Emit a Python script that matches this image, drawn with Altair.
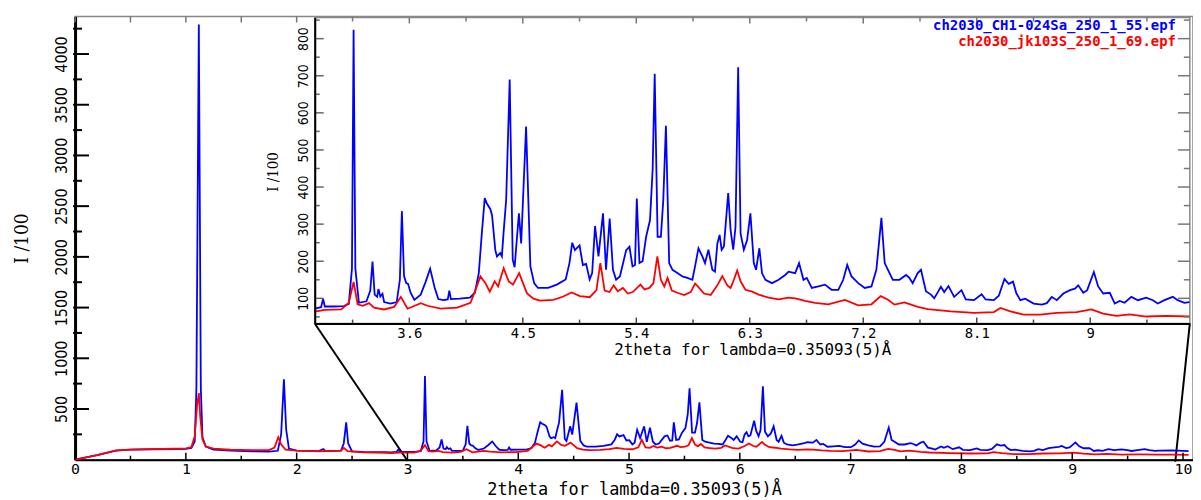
import altair as alt
import pandas as pd

# ---------------- data ----------------
series_names = ["ch2030_CH1-024Sa_250_1_55.epf", "ch2030_jk103S_250_1_69.epf"]

blue_x = [0.00, 0.20, 0.37, 0.50, 0.70, 0.90, 1.00, 1.05, 1.08, 1.095, 1.117, 1.135, 1.15, 1.18, 1.25,
          1.40, 1.60, 1.75, 1.83, 1.86, 1.885, 1.905, 1.93, 2.00, 2.20, 2.24, 2.26, 2.40, 2.425, 2.447,
          2.465, 2.50, 2.60, 2.80, 2.85, 2.90, 2.916, 2.93, 3.00, 3.08, 3.12, 3.145, 3.158, 3.172, 3.20,
          3.26, 3.29, 3.308, 3.325, 3.345, 3.355, 3.37, 3.387, 3.40, 3.45, 3.50, 3.525, 3.541, 3.558,
          3.575, 3.59, 3.61, 3.64, 3.69, 3.73, 3.765, 3.80, 3.83, 3.87, 3.905, 3.917, 3.93, 4.00, 4.08,
          4.12, 4.151, 4.175, 4.198, 4.216, 4.242, 4.256, 4.282, 4.295, 4.321, 4.334, 4.347, 4.368,
          4.396, 4.42, 4.435, 4.469, 4.487, 4.526, 4.56, 4.59, 4.62, 4.70, 4.77, 4.84, 4.87, 4.892,
          4.913, 4.95, 4.976, 5.002, 5.03, 5.05, 5.073, 5.10, 5.136, 5.16, 5.189, 5.215, 5.24, 5.27,
          5.32, 5.346, 5.37, 5.39, 5.404, 5.425, 5.45, 5.478, 5.509, 5.53, 5.546, 5.569, 5.595, 5.614,
          5.635, 5.661, 5.687, 5.726, 5.766, 5.805, 5.845, 5.871, 5.893, 5.924, 5.945, 5.972, 6.003,
          6.024, 6.043, 6.061, 6.077, 6.095, 6.129, 6.148, 6.169, 6.187, 6.208, 6.227, 6.253, 6.279,
          6.305, 6.332, 6.35, 6.376, 6.397, 6.424, 6.476, 6.529, 6.581, 6.608, 6.660, 6.691, 6.726,
          6.752, 6.792, 6.844, 6.897, 6.949, 7.002, 7.041, 7.073, 7.107, 7.160, 7.212, 7.265, 7.304,
          7.325, 7.344, 7.370, 7.396, 7.435, 7.487, 7.540, 7.566, 7.592, 7.632, 7.658, 7.697, 7.737,
          7.763, 7.816, 7.842, 7.876, 7.921, 7.979, 8.013, 8.078, 8.139, 8.170, 8.236, 8.275, 8.320,
          8.354, 8.388, 8.414, 8.446, 8.485, 8.551, 8.617, 8.656, 8.695, 8.735, 8.787, 8.840, 8.879,
          8.905, 8.945, 8.976, 9.029, 9.063, 9.103, 9.155, 9.195, 9.234, 9.273, 9.326, 9.379, 9.444,
          9.497, 9.536, 9.589, 9.655, 9.694, 9.747, 9.787, 9.90, 10.05]
blue_y = [0, 45, 90, 100, 103, 105, 108, 115, 180, 700, 4290, 700, 220, 130, 100,
          90, 82, 80, 88, 250, 794, 300, 110, 90, 85, 105, 85, 90, 160, 369,
          160, 82, 78, 75, 72, 76, 98, 78, 78, 79, 85, 180, 824, 180, 88,
          92, 120, 199, 110, 104, 125, 105, 112, 90, 86, 90, 150, 335, 160,
          141, 139, 115, 96, 110, 145, 180, 130, 98, 95, 97, 121, 98, 99, 102,
          115, 168, 275, 370, 355, 341, 324, 230, 213, 222, 213, 275, 365,
          690, 204, 184, 329, 248, 563, 186, 141, 128, 128, 137, 151, 195, 250,
          230, 243, 190, 193, 151, 168, 295, 213, 329, 177, 315, 177, 150, 159,
          230, 239, 186, 190, 369, 195, 200, 266, 311, 450, 705, 266, 266, 364,
          565, 195, 177, 168, 159, 155, 150, 195, 235, 213, 195, 231, 177,
          172, 248, 271, 231, 240, 384, 284, 231, 293, 723, 275, 231, 257,
          329, 195, 177, 235, 168, 150, 141, 150, 163, 172, 168, 195, 150,
          155, 128, 132, 137, 123, 123, 150, 190, 159, 141, 128, 132, 177,
          250, 317, 195, 177, 150, 150, 163, 155, 141, 168, 177, 119, 110,
          100, 131, 117, 133, 104, 122, 97, 95, 111, 97, 95, 107, 152,
          139, 145, 114, 95, 99, 86, 83, 87, 104, 95, 113, 122, 126,
          135, 115, 122, 171, 132, 113, 115, 86, 93, 88, 104, 95, 102,
          95, 86, 95, 104, 95, 88, 90, 92, 85]

red_x = [0.00, 0.20, 0.37, 0.50, 0.70, 0.90, 1.00, 1.05, 1.08, 1.10, 1.117, 1.13, 1.15, 1.18, 1.25,
         1.40, 1.60, 1.75, 1.80, 1.834, 1.86, 1.90, 2.00, 2.20, 2.40, 2.426, 2.46, 2.60, 2.80, 2.85,
         2.93, 3.06, 3.12, 3.158, 3.19, 3.23, 3.28, 3.32, 3.40, 3.48, 3.533, 3.586, 3.691, 3.744,
         3.849, 3.98, 4.085, 4.125, 4.164, 4.204, 4.238, 4.277, 4.304, 4.348, 4.388, 4.422, 4.471,
         4.532, 4.584, 4.637, 4.742, 4.821, 4.887, 4.953, 5.031, 5.084, 5.115, 5.149, 5.188, 5.220,
         5.254, 5.294, 5.333, 5.372, 5.433, 5.465, 5.504, 5.536, 5.567, 5.595, 5.622, 5.648, 5.682,
         5.726, 5.779, 5.832, 5.866, 5.898, 5.937, 5.990, 6.043, 6.082, 6.122, 6.148, 6.174, 6.200,
         6.227, 6.266, 6.319, 6.371, 6.450, 6.529, 6.608, 6.660, 6.739, 6.818, 6.923, 7.054, 7.160,
         7.265, 7.339, 7.396, 7.448, 7.527, 7.632, 7.711, 7.895, 8.078, 8.236, 8.288, 8.367, 8.472,
         8.604, 8.735, 8.892, 9.010, 9.103, 9.208, 9.313, 9.444, 9.602, 9.787, 9.90, 10.05]
red_y = [0, 45, 92, 100, 105, 108, 110, 125, 230, 520, 657, 420, 200, 130, 110,
         98, 95, 95, 120, 222, 150, 100, 90, 82, 90, 115, 85, 72, 68, 64,
         69, 70, 88, 144, 84, 80, 87, 75, 70, 77, 104, 72, 87, 80,
         72, 75, 88, 123, 159, 141, 118, 146, 132, 181, 146, 137, 168,
         114, 99, 94, 96, 105, 116, 106, 103, 122, 195, 121, 117, 135,
         119, 128, 113, 117, 137, 124, 128, 141, 213, 150, 132, 155, 121,
         115, 109, 117, 140, 128, 113, 109, 135, 160, 135, 128, 150, 175,
         146, 123, 118, 110, 102, 97, 102, 100, 93, 88, 84, 96, 81,
         84, 106, 96, 83, 89, 77, 71, 65, 61, 63, 74, 65, 56,
         56, 61, 63, 70, 59, 53, 57, 51, 53, 51, 50, 48]

main_x_ticks = [0, 1, 2, 3, 4, 5, 6, 7, 8, 9, 10]
main_x_minor = [0.5, 1.5, 2.5, 3.5, 4.5, 5.5, 6.5, 7.5, 8.5, 9.5]
main_y_ticks = [500, 1000, 1500, 2000, 2500, 3000, 3500, 4000]
main_y_minor = [250, 750, 1250, 1750, 2250, 2750, 3250, 3750, 4250]
inset_x_ticks = [3.6, 4.5, 5.4, 6.3, 7.2, 8.1, 9.0]
inset_x_minor = [3.15, 4.05, 4.95, 5.85, 6.75, 7.65, 8.55, 9.45]
inset_y_ticks = [100, 200, 300, 400, 500, 600, 700, 800]
inset_y_minor = [50, 150, 250, 350, 450, 550, 650, 750, 850]

# zoom connector targets on the main axis (x in 2theta, y in I/100)
connector_target_x = [3.0, 9.93]
connector_target_y = [-10, -20]

x_title = "2theta for lambda=0.35093(5)Å"
y_title = "I /100"

# ---------------- layout / style ----------------
W, H = 1125, 446
MAIN_X_DOMAIN = [0, 10.09]
MAIN_Y_DOMAIN = [0, 4370]
INSET_X_DOMAIN = [2.85, 9.79]
INSET_Y_DOMAIN = [32, 857]
INSET_X_RANGE = [241.2, 1121.8]
INSET_Y_RANGE = [309, 1]

BLUE, RED = "#0000ff", "#ff0000"
MONO = "DejaVu Sans Mono"
NARROW = "Liberation Sans Narrow, DejaVu Sans Condensed, sans-serif"
SERIFC = "DejaVu Serif Condensed, Liberation Serif, serif"

blue_df = pd.DataFrame({"x": blue_x, "y": blue_y})
red_df = pd.DataFrame({"x": red_x, "y": red_y})
in_rng = lambda d: d[(d.x >= INSET_X_DOMAIN[0]) & (d.x <= INSET_X_DOMAIN[1])]
blue_in, red_in = in_rng(blue_df), in_rng(red_df)
one = pd.DataFrame({"k": [0]})


def mxs():
    return alt.Scale(domain=MAIN_X_DOMAIN, nice=False, zero=False)


def mys():
    return alt.Scale(domain=MAIN_Y_DOMAIN, nice=False, zero=False)


def ixs():
    return alt.Scale(domain=INSET_X_DOMAIN, range=INSET_X_RANGE, nice=False, zero=False)


def iys():
    return alt.Scale(domain=INSET_Y_DOMAIN, range=INSET_Y_RANGE, nice=False, zero=False)


main_x_axis = alt.Axis(orient="bottom", values=main_x_ticks, ticks=False, grid=False,
                       domainColor="black", domainWidth=2,
                       labelFont=MONO, labelFontSize=15, labelColor="black", labelPadding=2,
                       labelFlush=False, labelOverlap=False,
                       labelExpr="format(datum.value, '.1~f')",
                       title=x_title, titleFont=MONO, titleFontSize=17, titleFontWeight="normal",
                       titleColor="black", titleY=30, titleBaseline="middle")
main_y_axis = alt.Axis(orient="left", values=main_y_ticks, ticks=False, grid=False,
                       domainColor="black", domainWidth=3,
                       labelFont=NARROW, labelFontSize=16, labelColor="black", labelAngle=270,
                       labelAlign="center", labelBaseline="bottom", labelPadding=6,
                       labelFlush=False, labelOverlap=False,
                       labelExpr="format(datum.value, 'd')",
                       title=y_title, titleFont=SERIFC, titleFontSize=19, titleFontWeight="normal",
                       titleColor="black", titleAngle=270, titleX=-53.5, titleY=223,
                       titleAlign="center", titleBaseline="middle")

inset_x_axis = alt.Axis(orient="bottom", offset=-(H - INSET_Y_RANGE[0]), values=inset_x_ticks,
                        labelExpr="format(datum.value, '.1~f')",
                        ticks=False, grid=False, domainColor="black", domainWidth=2,
                        labelFont=MONO, labelFontSize=14, labelColor="black", labelPadding=3,
                        labelFlush=False, labelOverlap=False,
                        title=x_title, titleFont=MONO, titleFontSize=16, titleFontWeight="normal",
                        titleColor="black", titleY=26, titleBaseline="middle", zindex=1)
inset_y_axis = alt.Axis(orient="left", offset=-INSET_X_RANGE[0], values=inset_y_ticks,
                        labelExpr="format(datum.value, 'd')",
                        ticks=False, grid=False, domainColor="black", domainWidth=2,
                        labelFont=NARROW, labelFontSize=14, labelColor="black", labelAngle=270,
                        labelAlign="center", labelBaseline="bottom", labelPadding=4,
                        labelFlush=False, labelOverlap=False,
                        title=y_title, titleFont=SERIFC, titleFontSize=15, titleFontWeight="normal",
                        titleColor="black", titleAngle=270, titleX=-42, titleY=156,
                        titleAlign="center", titleBaseline="middle", zindex=1)

# ---------------- main plot ----------------
blue_main = alt.Chart(blue_df).mark_line(color=BLUE, strokeWidth=1.8).encode(
    x=alt.X("x:Q", scale=mxs(), axis=main_x_axis), y=alt.Y("y:Q", scale=mys(), axis=main_y_axis))
red_main = alt.Chart(red_df).mark_line(color=RED, strokeWidth=1.8).encode(
    x=alt.X("x:Q", scale=mxs(), axis=None), y=alt.Y("y:Q", scale=mys(), axis=None))


def vticks(values, xs, ys, ydatum, off, color, sw=1.5):
    return alt.Chart(pd.DataFrame({"v": values})).mark_rule(color=color, strokeWidth=sw, y2Offset=off).encode(
        x=alt.X("v:Q", scale=xs(), axis=None),
        y=alt.YDatum(ydatum, type="quantitative", scale=ys(), axis=None),
        y2=alt.Y2Datum(ydatum))


def hticks(values, xs, ys, xdatum, off, color, sw=1.5, xoff=0):
    return alt.Chart(pd.DataFrame({"v": values})).mark_rule(color=color, strokeWidth=sw, xOffset=xoff, x2Offset=off).encode(
        y=alt.Y("v:Q", scale=ys(), axis=None),
        x=alt.XDatum(xdatum, type="quantitative", scale=xs(), axis=None),
        x2=alt.X2Datum(xdatum))


main_ticks = [
    hticks(main_y_ticks, mxs, mys, MAIN_X_DOMAIN[0], 14, "black", 2, -2),
    hticks(main_y_minor, mxs, mys, MAIN_X_DOMAIN[0], 7, "black", 2, -2),
    vticks(main_x_ticks, mxs, mys, MAIN_Y_DOMAIN[0], -7, "black"),
    vticks(main_x_minor, mxs, mys, MAIN_Y_DOMAIN[0], -4, "black"),
    vticks(main_x_ticks, mxs, mys, MAIN_Y_DOMAIN[1], 6, "#777777"),
    vticks(main_x_minor, mxs, mys, MAIN_Y_DOMAIN[1], 6, "#777777"),
]

# inset corners expressed in main data coordinates
corner_y = (H - INSET_Y_RANGE[0]) / H * MAIN_Y_DOMAIN[1]
corner_x = [r / W * MAIN_X_DOMAIN[1] for r in INSET_X_RANGE]
conn_df = pd.DataFrame({"x": corner_x, "y": [corner_y, corner_y],
                        "x2": connector_target_x, "y2": connector_target_y})
connectors = alt.Chart(conn_df).mark_rule(color="black", strokeWidth=2).encode(
    x=alt.X("x:Q", scale=mxs(), axis=None), y=alt.Y("y:Q", scale=mys(), axis=None), x2="x2:Q", y2="y2:Q")

# ---------------- inset ----------------
bg = alt.Chart(one).mark_rect(fill="white", stroke="#888888", strokeWidth=1.5).encode(
    x=alt.XDatum(INSET_X_DOMAIN[0], type="quantitative", scale=ixs(), axis=inset_x_axis),
    x2=alt.X2Datum(INSET_X_DOMAIN[1]),
    y=alt.YDatum(INSET_Y_DOMAIN[0], type="quantitative", scale=iys(), axis=inset_y_axis),
    y2=alt.Y2Datum(INSET_Y_DOMAIN[1]))
blue_inset = alt.Chart(blue_in).mark_line(color=BLUE, strokeWidth=1.8).encode(
    x=alt.X("x:Q", scale=ixs(), axis=None), y=alt.Y("y:Q", scale=iys(), axis=None))
red_inset = alt.Chart(red_in).mark_line(color=RED, strokeWidth=1.8).encode(
    x=alt.X("x:Q", scale=ixs(), axis=None), y=alt.Y("y:Q", scale=iys(), axis=None))

inset_ticks = [
    hticks(inset_y_ticks, ixs, iys, INSET_X_DOMAIN[0], 9, "#666666"),
    hticks(inset_y_minor, ixs, iys, INSET_X_DOMAIN[0], 5, "#666666"),
    hticks(inset_y_ticks, ixs, iys, INSET_X_DOMAIN[1], -12, "#777777"),
    hticks(inset_y_minor, ixs, iys, INSET_X_DOMAIN[1], -6, "#777777"),
    vticks(inset_x_ticks, ixs, iys, INSET_Y_DOMAIN[0], -6, "#444444"),
    vticks(inset_x_minor, ixs, iys, INSET_Y_DOMAIN[0], -4, "#444444"),
    vticks(inset_x_ticks, ixs, iys, INSET_Y_DOMAIN[1], 6, "#777777"),
    vticks(inset_x_minor, ixs, iys, INSET_Y_DOMAIN[1], 4, "#777777"),
]


def legend_text(name, color, yv):
    return alt.Chart(one).mark_text(align="right", baseline="middle", dx=-14, font=MONO, fontSize=14,
                                    fontWeight="bold", color=color, text=name).encode(
        x=alt.XDatum(INSET_X_DOMAIN[1], type="quantitative", scale=ixs(), axis=None),
        y=alt.YDatum(yv, type="quantitative", scale=iys(), axis=None))


legend = [legend_text(series_names[0], BLUE, 835), legend_text(series_names[1], RED, 791)]

chart = alt.layer(
    connectors, blue_main, red_main, *main_ticks,
    bg, blue_inset, red_inset, *inset_ticks, *legend,
).resolve_scale(x="independent", y="independent").properties(
    width=W, height=H,
    padding={"left": 67.5, "top": 7, "right": 0, "bottom": 40},
    autosize=alt.AutoSizeParams(type="none"),
).configure_view(stroke="#888888", strokeWidth=1.5)

chart.save("out.html", embed_options={"renderer": "svg", "actions": False})
